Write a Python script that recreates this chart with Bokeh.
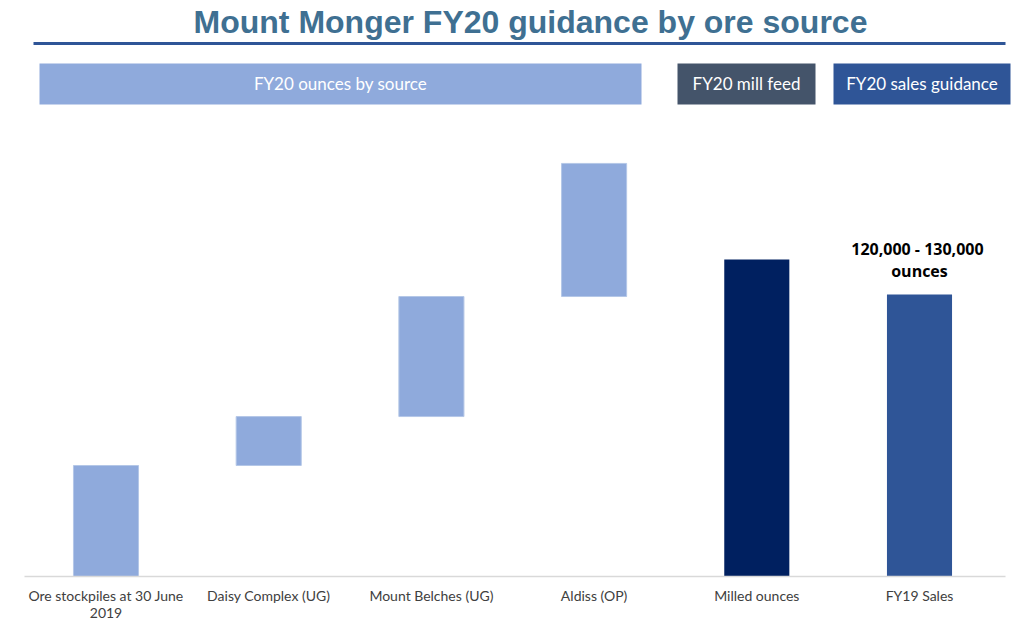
from bokeh.plotting import figure
from bokeh.models import Range1d, ColumnDataSource
from bokeh.core.properties import value
from bokeh.embed import file_html
from bokeh.resources import INLINE

# ---- data (thousand ounces) ----
categories = ["Ore stockpiles at 30 June\n2019", "Daisy Complex (UG)", "Mount Belches (UG)",
              "Aldiss (OP)", "Milled ounces", "FY19 Sales"]
increments = [49.2, 21.7, 53.2, 59.0]          # waterfall steps
milled = 140.5
sales = 125.0
sales_label = "120,000  - 130,000\nounces"
header_texts = ["FY20 ounces by source", "FY20 mill feed", "FY20 sales guidance"]
title_text = "Mount Monger FY20 guidance by ore source"

# ---- layout helpers (image pixels -> data coords) ----
OFF = 0
W, H = 1020, 622
X0, DX = 105.5, 162.7       # pixel center of category 0 and spacing
Y0, DY = 576.0, 2.256       # baseline pixel, px per unit
def X(px): return (px - X0) / DX
def Y(py): return (Y0 - py) / DY

p = figure(width=W, height=H, output_backend="svg", toolbar_location=None,
           x_range=Range1d(X(OFF), X(OFF + W)), y_range=Range1d(Y(OFF + H), Y(OFF)),
           min_border=0, outline_line_color=None)
p.axis.visible = False
p.grid.visible = False
p.background_fill_color = "white"
p.border_fill_color = "white"

# waterfall bars
bottoms, tops = [], []
run = 0.0
for inc in increments:
    bottoms.append(run)
    run += inc
    tops.append(run)
src = ColumnDataSource(dict(x=list(range(len(increments))), bottom=bottoms, top=tops))
p.vbar(x="x", bottom="bottom", top="top", width=0.40, source=src,
       fill_color="#8faadc", line_color="#b4c7e7", line_width=1)
p.vbar(x=[4], bottom=[0], top=[milled], width=0.40, fill_color="#002060", line_color=None)
p.vbar(x=[5], bottom=[0], top=[sales], width=0.40, fill_color="#2f5597", line_color=None)

# baseline
p.segment(x0=[X(24)], y0=[0], x1=[X(1005)], y1=[0], line_color="#d9d9d9", line_width=1.5)

# category labels
for i, c in enumerate(categories):
    p.text(x=[i], y=[Y(586)], text=[c], text_align="center", text_baseline="top",
           text_font=value("Lato"), text_font_size="14px", text_color="#404040",
           text_line_height=1.05)

# sales annotation
p.text(x=[5], y=[Y(259)], text=[sales_label], text_align="center", text_baseline="middle",
       text_font=value("Open Sans"), text_font_size="16px", text_font_style="bold",
       text_color="#000000", text_line_height=1.0)

# title and rule
p.text(x=[X(530)], y=[Y(21)], text=[title_text], text_align="center", text_baseline="middle",
       text_font=value("Liberation Sans"), text_font_size="32px", text_font_style="bold",
       text_color="#3f7092")
p.segment(x0=[X(33)], y0=[Y(43)], x1=[X(1005)], y1=[Y(43)], line_color="#2f5597", line_width=3)

# header boxes
hx0 = [39, 677, 833]
hx1 = [641, 815, 1010]
hcol = ["#8faadc", "#44546a", "#2f5597"]
p.quad(left=[X(a) for a in hx0], right=[X(b) for b in hx1], top=[Y(63)] * 3, bottom=[Y(104)] * 3,
       fill_color=hcol, line_color=None)
p.text(x=[X((a + b) / 2) for a, b in zip(hx0, hx1)], y=[Y(83)] * 3, text=header_texts,
       text_align="center", text_baseline="middle", text_font=value("Lato"),
       text_font_size="17px", text_color="white")

open("out.html", "w").write(file_html(p, INLINE))
